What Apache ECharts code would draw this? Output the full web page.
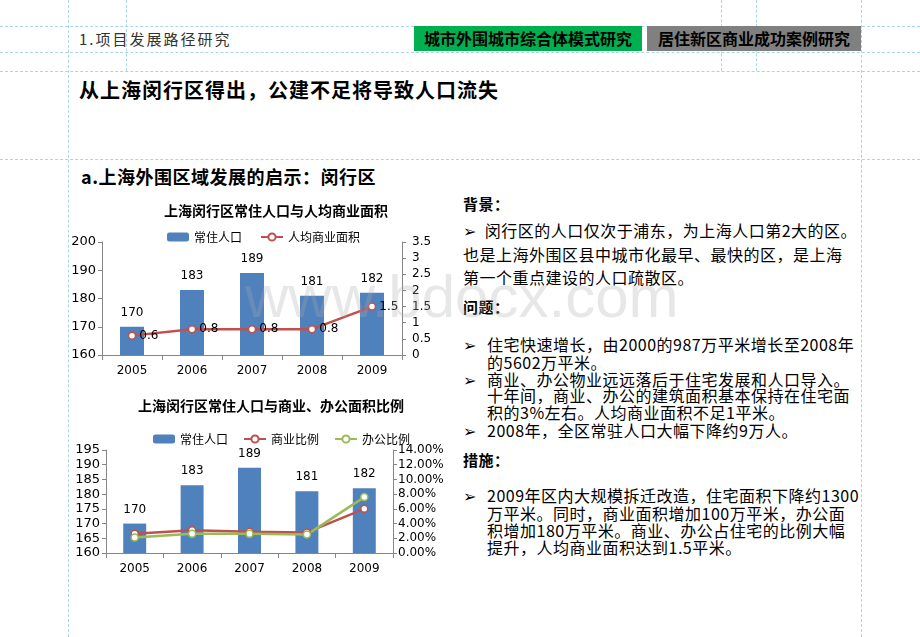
<!DOCTYPE html>
<html>
<head>
<meta charset="utf-8">
<script src="https://cdn.jsdelivr.net/npm/echarts@6/dist/echarts.min.js"></script>
<style>
body{margin:0;width:920px;height:637px;position:relative;overflow:hidden;background:#fff;font-family:"Noto Sans CJK SC",sans-serif;color:#000}
.gh{position:absolute;left:0;width:920px;height:0;border-top:1px dashed #a8d4ec}
.gv{position:absolute;top:0;width:0;border-left:1px dashed #a8d4ec}
.t{position:absolute;white-space:nowrap;line-height:20px;font-size:16px;letter-spacing:0.5px}
.b{font-weight:bold}
.tab{position:absolute;top:26px;height:25px;line-height:25px;font-size:16px;font-weight:bold;text-align:center;color:#000}
#c1{position:absolute;left:60px;top:195px;width:400px;height:190px}
#c2{position:absolute;left:60px;top:390px;width:400px;height:195px}
.wm{position:absolute;left:245px;top:262px;font-family:"Liberation Sans",Arial,sans-serif;font-size:60px;color:rgba(170,170,170,0.28);pointer-events:none;white-space:nowrap}
</style>
</head>
<body>
<!-- slide guides -->
<div class="gh" style="top:26px"></div>
<div class="gh" style="top:52px"></div>
<div class="gh" style="top:71px"></div>
<div class="gh" style="top:159px"></div>
<div class="gv" style="left:68px;height:637px"></div>
<div class="gv" style="left:126px;height:71px"></div>
<div class="gv" style="left:721px;height:71px"></div>
<div class="gv" style="left:756px;height:71px"></div>
<div class="gv" style="left:861px;height:637px"></div>

<div class="t" style="left:79px;top:29px;font-size:15px;letter-spacing:2px;color:#333">1.项目发展路径研究</div>
<div class="tab" style="left:414px;width:228px;background:#00b050">城市外围城市综合体模式研究</div>
<div class="tab" style="left:647px;width:214px;background:#808080">居住新区商业成功案例研究</div>

<div class="t b" style="left:79px;top:77px;font-size:20px;line-height:26px;letter-spacing:1px">从上海闵行区得出，公建不足将导致人口流失</div>
<div class="t b" style="left:81px;top:164px;font-size:18px;line-height:24px">a.上海外围区域发展的启示：闵行区</div>

<div id="c1"></div>
<div id="c2"></div>

<div class="t b" style="left:463px;top:194px;font-size:15px">背景：</div>
<div class="t" style="left:463px;top:220px">➢&nbsp;&nbsp;闵行区的人口仅次于浦东，为上海人口第2大的区。</div>
<div class="t" style="left:463px;top:244px">也是上海外围区县中城市化最早、最快的区，是上海</div>
<div class="t" style="left:463px;top:267px">第一个重点建设的人口疏散区。</div>

<div class="t b" style="left:463px;top:297px;font-size:15px">问题：</div>
<div class="t" style="left:463px;top:334px">➢</div>
<div class="t" style="left:487px;top:334px">住宅快速增长，由2000的987万平米增长至2008年</div>
<div class="t" style="left:487px;top:352px">的5602万平米。</div>
<div class="t" style="left:463px;top:369px">➢</div>
<div class="t" style="left:487px;top:369px">商业、办公物业远远落后于住宅发展和人口导入。</div>
<div class="t" style="left:487px;top:385px">十年间，商业、办公的建筑面积基本保持在住宅面</div>
<div class="t" style="left:487px;top:402px">积的3%左右。人均商业面积不足1平米。</div>
<div class="t" style="left:463px;top:420px">➢</div>
<div class="t" style="left:487px;top:420px">2008年，全区常驻人口大幅下降约9万人。</div>

<div class="t b" style="left:463px;top:450px;font-size:15px">措施：</div>
<div class="t" style="left:463px;top:485px">➢</div>
<div class="t" style="left:487px;top:485px">2009年区内大规模拆迁改造，住宅面积下降约1300</div>
<div class="t" style="left:487px;top:503px">万平米。同时，商业面积增加100万平米，办公面</div>
<div class="t" style="left:487px;top:520px">积增加180万平米。商业、办公占住宅的比例大幅</div>
<div class="t" style="left:487px;top:537px">提升，人均商业面积达到1.5平米。</div>

<div class="wm">www.bdocx.com</div>

<script>
// data
var years = ['2005', '2006', '2007', '2008', '2009'];
var population = [170, 183, 189, 181, 182];          // 常住人口 (万人)
var retailPerCapita = [0.6, 0.8, 0.8, 0.8, 1.5];     // 人均商业面积 (平米)
var retailRatio = [2.6, 3.1, 2.9, 2.8, 6.0];         // 商业比例 %
var officeRatio = [2.1, 2.6, 2.6, 2.5, 7.6];         // 办公比例 %

var BLUE = '#4f81bd', RED = '#c0504d', GREEN = '#9bbb59', AXIS = '#868686';
var numFont = 'DejaVu Sans';

function axisCommon(size, margin){
	return {
		axisLine: {show: true, lineStyle: {color: AXIS}},
		axisTick: {show: true, length: 4, lineStyle: {color: AXIS}},
		splitLine: {show: false},
		axisLabel: {color: '#000', fontSize: size, fontFamily: numFont, margin: margin}
	}
}

function lineSeries(name, data, color, yIndex, label){
	return {
		name: name,
		type: 'line',
		yAxisIndex: yIndex,
		data: data,
		symbol: 'circle',
		symbolSize: 7,
		lineStyle: {color: color, width: 2.5},
		itemStyle: {color: '#fff', borderColor: color, borderWidth: 1.5},
		label: label ? {show: true, position: 'right', distance: 3, color: '#000', fontSize: 12, fontFamily: numFont} : {show: false},
		z: 3
	}
}

function barSeries(){
	return {
		name: '常住人口',
		type: 'bar',
		data: population,
		barWidth: '40%',
		itemStyle: {color: BLUE},
		label: {show: true, position: 'top', distance: 8, color: '#000', fontSize: 12, fontFamily: numFont}
	}
}

function xAxisOpt(){
	return {
		type: 'category',
		data: years,
		axisLine: {lineStyle: {color: AXIS}},
		axisTick: {show: true, length: 5, lineStyle: {color: AXIS}},
		axisLabel: {color: '#000', fontSize: 12, fontFamily: numFont, margin: 10}
	}
}

var chart1 = echarts.init(document.getElementById('c1'));
chart1.setOption({
	animation: false,
	title: {
		text: '上海闵行区常住人口与人均商业面积',
		left: 99, top: 4,
		textStyle: {fontSize: 14, fontWeight: 'bold', color: '#000', fontFamily: 'Noto Sans CJK SC'}
	},
	legend: {
		top: 31, left: 102,
		itemWidth: 22, itemHeight: 9, itemGap: 18,
		textStyle: {fontSize: 12, color: '#000', fontFamily: 'Noto Sans CJK SC'},
		data: ['常住人口', '人均商业面积']
	},
	grid: {left: 42, right: 58, top: 47, bottom: 30},
	xAxis: xAxisOpt(),
	yAxis: [
		Object.assign(axisCommon(13, 6), {type: 'value', min: 160, max: 200, interval: 10}),
		Object.assign(axisCommon(12, 10), {type: 'value', min: 0, max: 3.5, interval: 0.5, position: 'right'})
	],
	series: [
		barSeries(),
		lineSeries('人均商业面积', retailPerCapita, RED, 1, true)
	]
});

var chart2 = echarts.init(document.getElementById('c2'));
var right2 = axisCommon(12, 5);
right2.axisLabel.formatter = function(v){ return v.toFixed(2) + '%' };
chart2.setOption({
	animation: false,
	title: {
		text: '上海闵行区常住人口与商业、办公面积比例',
		left: 73, top: 4,
		textStyle: {fontSize: 14, fontWeight: 'bold', color: '#000', fontFamily: 'Noto Sans CJK SC'}
	},
	legend: {
		top: 38, left: 88,
		itemWidth: 22, itemHeight: 9, itemGap: 15,
		textStyle: {fontSize: 12, color: '#000', fontFamily: 'Noto Sans CJK SC'},
		data: ['常住人口', '商业比例', '办公比例']
	},
	grid: {left: 46, right: 67, top: 60, bottom: 32},
	xAxis: xAxisOpt(),
	yAxis: [
		Object.assign(axisCommon(13, 6), {type: 'value', min: 160, max: 195, interval: 5}),
		Object.assign(right2, {type: 'value', min: 0, max: 14, interval: 2, position: 'right'})
	],
	series: [
		barSeries(),
		lineSeries('商业比例', retailRatio, RED, 1, false),
		lineSeries('办公比例', officeRatio, GREEN, 1, false)
	]
});
</script>
</body>
</html>
